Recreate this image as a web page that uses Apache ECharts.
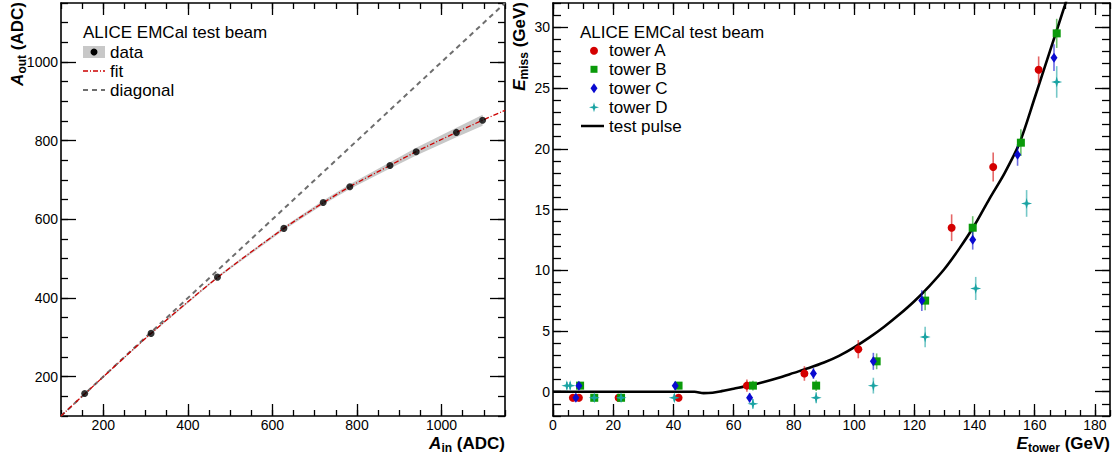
<!DOCTYPE html>
<html><head><meta charset="utf-8">
<script src="https://cdn.jsdelivr.net/npm/echarts@6/dist/echarts.min.js"></script>
<style>html,body{margin:0;padding:0;background:#fff}#c{width:1113px;height:454px}</style>
</head><body><div id="c"></div>
<script>
// ---------- Left panel: A_out vs A_in ----------
const ainData  = [156, 313, 470, 627, 720, 783, 878, 940, 1035, 1097];
const aoutData = [157, 310, 453, 577, 643, 683, 737, 772, 821, 852];
const aoutBand = [1, 2, 3, 4, 5, 6, 8, 10, 12, 14];
const fitAin   = [100, 156, 313, 470, 627, 720, 783, 878, 940, 1035, 1097, 1150];
const fitAout  = [100, 156, 310, 452, 577, 642, 683, 737, 772, 821, 852, 877];
const diagAin  = [100, 1150];
const diagAout = [100, 1150];
const leftXTicks = [200, 400, 600, 800, 1000];
const leftYTicks = [200, 400, 600, 800, 1000];

// ---------- Right panel: E_miss vs E_tower ----------
const towerA_E   = [6.6, 8.6, 21.8, 41.7, 64.4, 83.5, 101.4, 132.4, 146.2, 161.3];
const towerA_M   = [-0.5, -0.5, -0.5, -0.5, 0.5, 1.5, 3.5, 13.5, 18.5, 26.5];
const towerA_err = [0.3, 0.3, 0.3, 0.3, 0.5, 0.6, 0.75, 1.1, 1.2, 1.1];
const towerB_E   = [9.0, 13.7, 22.6, 41.7, 66.4, 87.4, 107.5, 123.6, 139.4, 155.4, 167.3];
const towerB_M   = [0.5, -0.5, -0.5, 0.5, 0.5, 0.5, 2.5, 7.5, 13.5, 20.5, 29.5];
const towerB_err = [0.3, 0.3, 0.3, 0.3, 0.4, 0.45, 0.65, 0.8, 0.95, 1.1, 1.2];
const towerC_E   = [7.6, 8.6, 40.6, 65.3, 86.5, 106.4, 122.5, 139.4, 154.3, 166.4];
const towerC_M   = [-0.5, 0.5, 0.5, -0.5, 1.5, 2.5, 7.5, 12.5, 19.5, 27.5];
const towerC_err = [0.3, 0.3, 0.3, 0.4, 0.45, 0.7, 0.85, 0.8, 0.9, 1.1];
const towerD_E   = [4.6, 5.7, 13.7, 22.6, 40.3, 66.4, 87.4, 106.4, 123.6, 140.4, 157.3, 167.3];
const towerD_M   = [0.5, 0.5, -0.5, -0.5, -0.5, -1, -0.5, 0.5, 4.5, 8.5, 15.5, 25.5];
const towerD_err = [0.3, 0.3, 0.3, 0.3, 0.3, 0.4, 0.45, 0.65, 0.85, 0.95, 1.1, 1.3];
const pulseE = [0, 10, 20, 30, 40, 47, 50, 53, 56, 60, 65, 70, 75, 80, 85, 90, 95, 100, 105, 110, 115, 120, 125, 130, 135, 140, 145, 150, 155, 160, 165, 170, 171.5];
const pulseM = [0, 0, 0, 0, 0, 0, -0.12, -0.08, 0.05, 0.25, 0.5, 0.8, 1.15, 1.55, 1.95, 2.4, 2.95, 3.65, 4.45, 5.35, 6.35, 7.45, 8.7, 10.1, 11.8, 13.7, 15.9, 18.0, 20.5, 24.2, 28.0, 31.8, 33];
const rightXTicks = [0, 20, 40, 60, 80, 100, 120, 140, 160, 180];
const rightYTicks = [0, 5, 10, 15, 20, 25, 30];

const F = 'Liberation Sans, Arial, Helvetica, sans-serif';
const RED = '#d40000', GREEN = '#0a9a0a', BLUE = '#0a0ad0', TEAL = '#1aa3a3';
const STAR = 'path://M0,-10 L2.2,-2.2 L10,0 L2.2,2.2 L0,10 L-2.2,2.2 L-10,0 L-2.2,-2.2 Z';

function makeAxes(grid, isX, min, max, minorInterval, majorTicks, majorLen, minorLen) {
  const posA = isX ? 'bottom' : 'left', posB = isX ? 'top' : 'right';
  const base = {type: 'value', gridIndex: grid, min: min, max: max, splitLine: {show: false}, axisPointer: {show: false}};
  const line = {show: true, onZero: false, lineStyle: {color: '#000', width: 1.6}};
  const noLine = {show: false, onZero: false};
  const tl = {color: '#000', width: 1.3};
  return [
    Object.assign({}, base, {position: posA, axisLine: line,
      axisTick: {show: true, inside: true, length: majorLen, customValues: majorTicks, lineStyle: tl},
      axisLabel: {show: true, customValues: majorTicks, color: '#000', fontSize: 14, fontFamily: F,
        margin: isX ? 2 : 3, formatter: function (v) { return String(v); }}}),
    Object.assign({}, base, {position: posA, interval: minorInterval, axisLine: noLine,
      axisTick: {show: true, inside: true, length: minorLen, lineStyle: tl}, axisLabel: {show: false}}),
    Object.assign({}, base, {position: posB, axisLine: line,
      axisTick: {show: true, inside: true, length: majorLen, customValues: majorTicks, lineStyle: tl}, axisLabel: {show: false}}),
    Object.assign({}, base, {position: posB, interval: minorInterval, axisLine: noLine,
      axisTick: {show: true, inside: true, length: minorLen, lineStyle: tl}, axisLabel: {show: false}})
  ];
}

const xAxes = makeAxes(0, true, 100, 1150, 50, leftXTicks, 12, 6).concat(makeAxes(1, true, 0, 185, 5, rightXTicks, 12, 6));
const yAxes = makeAxes(0, false, 100, 1150, 50, leftYTicks, 15, 7).concat(makeAxes(1, false, -2, 32, 1, rightYTicks, 15, 8));

function zip(a, b) { return a.map((v, i) => [v, b[i]]); }

function errSeries(E, M, err, color) {
  return {
    type: 'custom', xAxisIndex: 4, yAxisIndex: 4, silent: true, z: 2,
    data: E.map((e, i) => [e, M[i] - err[i], M[i] + err[i]]),
    encode: {x: 0, y: [1, 2]},
    renderItem: function (params, api) {
      const p1 = api.coord([api.value(0), api.value(1)]);
      const p2 = api.coord([api.value(0), api.value(2)]);
      return {type: 'line', shape: {x1: p1[0], y1: p1[1], x2: p2[0], y2: p2[1]},
        style: {stroke: color, lineWidth: 1.6, opacity: 0.6}};
    }
  };
}
function markerSeries(name, E, M, symbol, size, color) {
  return {name: name, type: 'scatter', xAxisIndex: 4, yAxisIndex: 4, z: 3, symbol: symbol, symbolSize: size,
    itemStyle: {color: color, opacity: 1}, data: zip(E, M)};
}

function txt(x, y, t, size) {
  return {type: 'text', x: x, y: y, z: 10, style: {text: t, fontSize: size || 17, fontFamily: F, fill: '#000', align: 'left', verticalAlign: 'middle'}};
}
function piece(x, y, t, kind) {
  const s = {text: t, fontFamily: F, fontWeight: 'bold', fill: '#000', align: 'right', verticalAlign: 'middle',
    fontSize: kind === 's' ? 12 : 17, fontStyle: kind === 'i' ? 'italic' : 'normal'};
  return {type: 'text', x: x, y: y, z: 10, style: s};
}
const W = {ADC: 52.9, GeV: 50.1, in: 10.7, tower: 32.0, out: 18.7, miss: 27.3};
const TY = 443;

const graphics = [
  // x title left: A_in (ADC)
  piece(505, TY, ' (ADC)', 'b'),
  piece(505 - W.ADC, TY + 5, 'in', 's'),
  piece(505 - W.ADC - W.in, TY, 'A', 'i'),
  // x title right: E_tower (GeV)
  piece(1110, TY, ' (GeV)', 'b'),
  piece(1110 - W.GeV, TY + 5, 'tower', 's'),
  piece(1110 - W.GeV - W.tower, TY, 'E', 'i'),
  // y title left: A_out (ADC) (rotated, reading upward, ending at top)
  {type: 'text', x: 17, y: 2, rotation: Math.PI / 2, z: 10, style: {text: ' (ADC)', fontFamily: F, fontWeight: 'bold', fontSize: 17, fill: '#000', align: 'right', verticalAlign: 'middle'}},
  {type: 'text', x: 22, y: 2 + W.ADC, rotation: Math.PI / 2, z: 10, style: {text: 'out', fontFamily: F, fontWeight: 'bold', fontSize: 12, fill: '#000', align: 'right', verticalAlign: 'middle'}},
  {type: 'text', x: 17, y: 2 + W.ADC + W.out, rotation: Math.PI / 2, z: 10, style: {text: 'A', fontFamily: F, fontWeight: 'bold', fontStyle: 'italic', fontSize: 17, fill: '#000', align: 'right', verticalAlign: 'middle'}},
  // y title right: E_miss (GeV)
  {type: 'text', x: 519, y: 2, rotation: Math.PI / 2, z: 10, style: {text: ' (GeV)', fontFamily: F, fontWeight: 'bold', fontSize: 17, fill: '#000', align: 'right', verticalAlign: 'middle'}},
  {type: 'text', x: 524, y: 2 + W.GeV, rotation: Math.PI / 2, z: 10, style: {text: 'miss', fontFamily: F, fontWeight: 'bold', fontSize: 12, fill: '#000', align: 'right', verticalAlign: 'middle'}},
  {type: 'text', x: 519, y: 2 + W.GeV + W.miss, rotation: Math.PI / 2, z: 10, style: {text: 'E', fontFamily: F, fontWeight: 'bold', fontStyle: 'italic', fontSize: 17, fill: '#000', align: 'right', verticalAlign: 'middle'}},
  // left legend
  txt(83, 32, 'ALICE EMCal test beam'),
  {type: 'rect', z: 10, shape: {x: 83, y: 46, width: 22, height: 12}, style: {fill: '#c8c8c8'}},
  {type: 'circle', z: 11, shape: {cx: 94, cy: 52, r: 3.5}, style: {fill: '#000'}},
  txt(110, 52, 'data'),
  {type: 'line', z: 10, shape: {x1: 83, y1: 71, x2: 105, y2: 71}, style: {stroke: '#cc0000', lineWidth: 1.3, lineDash: [5, 2, 1, 2]}},
  txt(110, 71, 'fit'),
  {type: 'line', z: 10, shape: {x1: 83, y1: 90, x2: 105, y2: 90}, style: {stroke: '#6e6e6e', lineWidth: 2, lineDash: [5, 4]}},
  txt(110, 90, 'diagonal'),
  // right legend
  txt(580, 32, 'ALICE EMCal test beam'),
  {type: 'circle', z: 10, shape: {cx: 594, cy: 50.7, r: 4}, style: {fill: RED}},
  txt(609, 50.7, 'tower A'),
  {type: 'rect', z: 10, shape: {x: 590.5, y: 65.8, width: 7, height: 7}, style: {fill: GREEN}},
  txt(609, 69.3, 'tower B'),
  {type: 'polygon', z: 10, shape: {points: [[594, 83.3], [597.5, 88.3], [594, 93.3], [590.5, 88.3]]}, style: {fill: BLUE}},
  txt(609, 88.3, 'tower C'),
  {type: 'polygon', z: 10, shape: {points: [[594, 102.3], [595.1, 106.2], [599, 107.3], [595.1, 108.4], [594, 112.3], [592.9, 108.4], [589, 107.3], [592.9, 106.2]]}, style: {fill: TEAL}},
  txt(609, 107.3, 'tower D'),
  {type: 'line', z: 10, shape: {x1: 581, y1: 126, x2: 604, y2: 126}, style: {stroke: '#000', lineWidth: 2.5}},
  txt(609, 126, 'test pulse')
];

const option = {
  animation: false,
  backgroundColor: '#fff',
  grid: [
    {left: 61, top: 3, width: 444, height: 413, containLabel: false},
    {left: 553, top: 3, width: 557, height: 413, containLabel: false}
  ],
  xAxis: xAxes,
  yAxis: yAxes,
  graphic: graphics,
  series: [
    {type: 'custom', xAxisIndex: 0, yAxisIndex: 0, silent: true, z: 1,
      data: [[ainData[0], aoutData[0]]],
      renderItem: function (params, api) {
        const pts = [];
        for (let i = 0; i < ainData.length; i++) pts.push(api.coord([ainData[i], aoutData[i] + aoutBand[i]]));
        for (let i = ainData.length - 1; i >= 0; i--) pts.push(api.coord([ainData[i], aoutData[i] - aoutBand[i]]));
        return {type: 'polygon', shape: {points: pts}, style: {fill: '#c8c8c8'}};
      }},
    {name: 'diagonal', type: 'line', xAxisIndex: 0, yAxisIndex: 0, z: 2, symbol: 'none',
      lineStyle: {color: '#6e6e6e', width: 2, type: [5, 4]}, data: zip(diagAin, diagAout)},
    {name: 'fit', type: 'line', xAxisIndex: 0, yAxisIndex: 0, z: 3, symbol: 'none', smooth: 0.3,
      lineStyle: {color: '#cc0000', width: 1.3, type: [5, 2, 1, 2]}, data: zip(fitAin, fitAout)},
    {name: 'data', type: 'scatter', xAxisIndex: 0, yAxisIndex: 0, z: 4, symbol: 'circle', symbolSize: 7,
      itemStyle: {color: '#000'}, data: zip(ainData, aoutData)},
    {name: 'test pulse', type: 'line', xAxisIndex: 4, yAxisIndex: 4, z: 1, symbol: 'none', smooth: 0.3,
      lineStyle: {color: '#000', width: 2.6}, data: zip(pulseE, pulseM)},
    errSeries(towerA_E, towerA_M, towerA_err, RED),
    errSeries(towerB_E, towerB_M, towerB_err, GREEN),
    errSeries(towerC_E, towerC_M, towerC_err, BLUE),
    errSeries(towerD_E, towerD_M, towerD_err, TEAL),
    markerSeries('tower A', towerA_E, towerA_M, 'circle', 8, RED),
    markerSeries('tower B', towerB_E, towerB_M, 'rect', 8, GREEN),
    markerSeries('tower C', towerC_E, towerC_M, 'diamond', [7, 10], BLUE),
    markerSeries('tower D', towerD_E, towerD_M, STAR, 11, TEAL)
  ]
};
const chart = echarts.init(document.getElementById('c'), null, {renderer: 'svg'});
chart.setOption(option);
</script>
</body></html>
